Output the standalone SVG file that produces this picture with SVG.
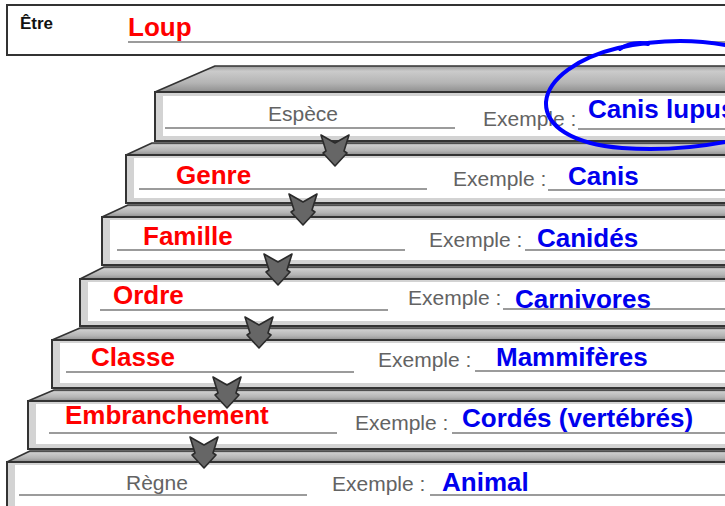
<svg xmlns="http://www.w3.org/2000/svg" width="725" height="506" viewBox="0 0 725 506">
<defs>
<linearGradient id="tr" x1="0" y1="0" x2="0" y2="1">
<stop offset="0" stop-color="#9c9c9c"/>
<stop offset="0.2" stop-color="#cbcbcb"/>
<stop offset="0.65" stop-color="#b4b4b4"/>
<stop offset="1" stop-color="#8f8f8f"/>
</linearGradient>
<path id="arr" d="M -14 0 L 0 8 L 14 0 L 9 16 L 12 18 L 0 31 L -12 18 L -9 16 Z"/>
</defs>
<style>
.tread{fill:url(#tr);stroke:#333;stroke-width:1.6;stroke-linejoin:round}
.face{fill:#d3d3d3;stroke:#333;stroke-width:2}
.inner{fill:#fff}
.ul{stroke:#7a7a7a;stroke-width:1.5;fill:none}
.gray{font-family:"Liberation Sans",Arial,sans-serif;font-size:21px;fill:#636363}
.red{font-family:"Liberation Sans",Arial,sans-serif;font-size:26px;font-weight:bold;fill:#ff0000}
.blue{font-family:"Liberation Sans",Arial,sans-serif;font-size:26px;font-weight:bold;fill:#0000ee}
.arrow{fill:#666;stroke:#2b2b2b;stroke-width:1.6;stroke-linejoin:round}
</style>
<rect width="725" height="506" fill="#fff"/>

<g id="etre">
<rect x="7" y="5" width="730" height="50" fill="#fff" stroke="#333" stroke-width="2"/>
<text x="20" y="29" font-family="'Liberation Sans',Arial,sans-serif" font-size="17" font-weight="bold" fill="#111">Être</text>
<text x="128" y="36" class="red">Loup</text>
<line x1="128" y1="42" x2="725" y2="42" class="ul"/>
</g>

<g id="espece">
<polygon class="tread" points="215,66 730,66 730,92 155,92"/>
<rect class="face" x="155" y="92" width="575" height="49"/>
<rect class="inner" x="163" y="96" width="567" height="40"/>
<text x="268" y="121" class="gray">Espèce</text>
<line x1="165" y1="128" x2="455" y2="128" class="ul"/>
<text x="483" y="126" class="gray">Exemple :</text>
<line x1="578" y1="129" x2="725" y2="129" class="ul"/>
<text x="588" y="118" class="blue">Canis lupus</text>
</g>

<g id="genre">
<polygon class="tread" points="152,143 730,143 730,155 126,155"/>
<rect class="face" x="126" y="155" width="604" height="48"/>
<rect class="inner" x="134" y="158" width="596" height="40"/>
<text x="176" y="184" class="red">Genre</text>
<line x1="139" y1="189" x2="427" y2="189" class="ul"/>
<text x="453" y="186" class="gray">Exemple :</text>
<line x1="548" y1="190" x2="725" y2="190" class="ul"/>
<text x="568" y="185" class="blue">Canis</text>
</g>

<g id="famille">
<polygon class="tread" points="128,205 730,205 730,217 102,217"/>
<rect class="face" x="102" y="217" width="628" height="48"/>
<rect class="inner" x="110" y="220" width="620" height="40"/>
<text x="143" y="245" class="red">Famille</text>
<line x1="117" y1="250" x2="405" y2="250" class="ul"/>
<text x="429" y="247" class="gray">Exemple :</text>
<line x1="525" y1="250" x2="725" y2="250" class="ul"/>
<text x="537" y="247" class="blue">Canidés</text>
</g>

<g id="ordre">
<polygon class="tread" points="104,267 730,267 730,279 80,279"/>
<rect class="face" x="80" y="279" width="650" height="47"/>
<rect class="inner" x="88" y="282" width="642" height="39"/>
<text x="113" y="304" class="red">Ordre</text>
<line x1="100" y1="310" x2="388" y2="310" class="ul"/>
<text x="408" y="305" class="gray">Exemple :</text>
<line x1="503" y1="309" x2="725" y2="309" class="ul"/>
<text x="515" y="308" class="blue">Carnivores</text>
</g>

<g id="classe">
<polygon class="tread" points="80,328 730,328 730,340 52,340"/>
<rect class="face" x="52" y="340" width="678" height="48"/>
<rect class="inner" x="60" y="343" width="670" height="40"/>
<text x="91" y="366" class="red">Classe</text>
<line x1="66" y1="372" x2="354" y2="372" class="ul"/>
<text x="378" y="367" class="gray">Exemple :</text>
<line x1="475" y1="371" x2="725" y2="371" class="ul"/>
<text x="496" y="366" class="blue">Mammifères</text>
</g>

<g id="embranchement">
<polygon class="tread" points="54,390 730,390 730,401 28,401"/>
<rect class="face" x="28" y="401" width="702" height="48"/>
<rect class="inner" x="36" y="404" width="694" height="40"/>
<text x="65" y="424" class="red">Embranchement</text>
<line x1="49" y1="433" x2="337" y2="433" class="ul"/>
<text x="355" y="430" class="gray">Exemple :</text>
<line x1="452" y1="433" x2="725" y2="433" class="ul"/>
<text x="462" y="427" class="blue">Cordés (vertébrés)</text>
</g>

<g id="regne">
<polygon class="tread" points="30,451 730,451 730,462 7,462"/>
<rect class="face" x="7" y="462" width="723" height="50"/>
<rect class="inner" x="15" y="465" width="715" height="45"/>
<text x="126" y="490" class="gray">Règne</text>
<line x1="19" y1="495" x2="307" y2="495" class="ul"/>
<text x="332" y="491" class="gray">Exemple :</text>
<line x1="430" y1="495" x2="725" y2="495" class="ul"/>
<text x="442" y="491" class="blue">Animal</text>
</g>

<g id="connectors">
<use href="#arr" class="arrow" transform="translate(335,135)"/>
<use href="#arr" class="arrow" transform="translate(303,194)"/>
<use href="#arr" class="arrow" transform="translate(278,254)"/>
<use href="#arr" class="arrow" transform="translate(259,317)"/>
<use href="#arr" class="arrow" transform="translate(227,377)"/>
<use href="#arr" class="arrow" transform="translate(204,437)"/>
</g>

<g id="circle" fill="none" stroke="#0000ff" stroke-width="4" stroke-linecap="round">
<path d="M 730 46 C 695 39, 655 40, 618 48 C 580 57, 548 78, 546 102 C 545 126, 572 144, 622 148 C 662 151, 700 147, 730 141"/>
<path d="M 620 49 C 628 43, 640 42, 648 44"/>
</g>
</svg>
